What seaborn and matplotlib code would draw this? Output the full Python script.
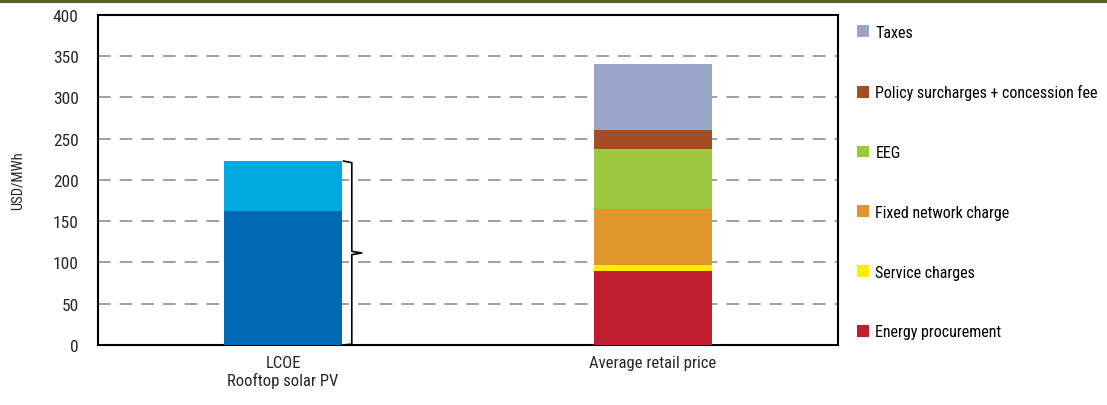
import matplotlib
matplotlib.use("Agg")
import matplotlib.pyplot as plt
import seaborn as sns
import pandas as pd
import numpy as np
from matplotlib.patches import Patch
from matplotlib import font_manager

# ---- data ----
categories = ["LCOE\nRooftop solar PV", "Average retail price"]
lcoe_parts = ["LCOE low", "LCOE range"]
lcoe_values = [162, 61]
lcoe_colors = ["#0069B4", "#00A9E0"]

retail_parts = ["Energy procurement", "Service charges", "Fixed network charge",
                "EEG", "Policy surcharges + concession fee", "Taxes"]
retail_values = [90, 7, 68, 72, 24, 79]
retail_colors = ["#BE1E2D", "#FFED00", "#DF962A", "#9BC83C", "#A44D22", "#99A6C8"]

yticks = [0, 50, 100, 150, 200, 250, 300, 350, 400]

sns.set_theme(style="white")
names = {f.name for f in font_manager.fontManager.ttflist}
fam = [n for n in ['Liberation Sans Narrow', 'Roboto Condensed', 'Open Sans Condensed'] if n in names]
plt.rcParams['font.family'] = fam + ['DejaVu Sans']
plt.rcParams['font.stretch'] = 'condensed'
plt.rcParams['text.color'] = 'black'

fig = plt.figure(figsize=(11.07, 4.06), dpi=100)
ax = fig.add_axes([0.0885, 0.1478, 0.757 - 0.0885, 0.9606 - 0.1478])

bw = 0.32
data = []
for name, val in zip(lcoe_parts, lcoe_values):
    data.append((categories[0], name, val))
for name, val in zip(retail_parts, retail_values):
    data.append((categories[1], name, val))
df = pd.DataFrame(data, columns=["cat", "part", "v"])
df["bottom"] = df.groupby("cat")["v"].cumsum() - df["v"]
colmap = dict(zip(lcoe_parts + retail_parts, lcoe_colors + retail_colors))

for _, r in df.iterrows():
    sub = pd.DataFrame({"cat": [r["cat"]], "v": [r["v"]]})
    sns.barplot(data=sub, x="cat", y="v", order=categories, ax=ax,
                color=colmap[r["part"]], width=bw, bottom=r["bottom"],
                linewidth=0, saturation=1, zorder=3)

lcoe_total = sum(lcoe_values)

ax.set_xlim(-0.5, 1.5)
ax.set_ylim(0, 400)
ax.set_yticks(yticks)
ax.set_yticklabels([str(t) for t in yticks], fontsize=12.5)
ax.set_xticks([0, 1])
ax.set_xticklabels(categories, fontsize=12)
ax.tick_params(axis='x', length=0, pad=7)
ax.tick_params(axis='y', length=4, direction='in', width=1.2, pad=14)
ax.set_xlabel("")
ax.set_ylabel("USD/MWh", fontsize=10.5, labelpad=20)

ax.set_xticks([0.5], minor=True)
ax.tick_params(axis='x', which='minor', length=5, direction='in', width=1.2, color='black')

for y in yticks[1:-1]:
    ax.axhline(y, color='#999999', linestyle=(0, (7, 5)), linewidth=1.3, zorder=1)

for s in ax.spines.values():
    s.set_visible(True)
    s.set_color('black')
    s.set_linewidth(1.5)

# bracket next to LCOE bar
xb = 0.186
xt = 0.213
xs = 0.163
mid = lcoe_total / 2
bx = [xs, xb, xb, xt, xb, xb, xs]
by = [lcoe_total, lcoe_total - 2, mid + 2, mid, mid - 2, 1, 0]
ax.plot(bx, by, color='black', linewidth=1.2, zorder=4, clip_on=False)

handles = [Patch(facecolor=c, edgecolor='none', label=n)
           for n, c in zip(retail_parts[::-1], retail_colors[::-1])]
leg = ax.legend(handles=handles, loc='upper left', bbox_to_anchor=(1.017, 0.99),
                frameon=False, fontsize=11.5, handlelength=0.75, handleheight=0.75,
                handletextpad=0.4, labelspacing=2.8, borderaxespad=0)

fig.add_artist(plt.Line2D([0, 1], [0.996, 0.996], transform=fig.transFigure,
                          color='#4F6228', linewidth=3))

fig.savefig("out.png", dpi=100)
